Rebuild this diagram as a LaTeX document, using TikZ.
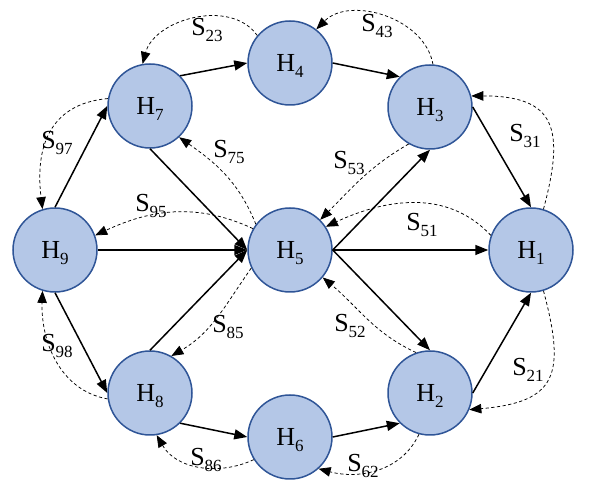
\documentclass[tikz,border=0pt]{standalone}
\usepackage{fontspec}
\setmainfont{Liberation Serif}
\usetikzlibrary{arrows.meta}
\definecolor{nodefill}{RGB}{180,199,231}
\definecolor{nodeline}{RGB}{47,85,151}
\newcommand{\lbl}[2]{#1\smash{\raisebox{-6pt}{\fontsize{17}{17}\selectfont #2}}}
\tikzset{
  hnode/.style={circle, draw=nodeline, fill=nodefill, line width=1.5pt, minimum size=84pt, inner sep=0pt, font=\fontsize{26}{26}\selectfont},
  flow/.style={line width=1.5pt, -{Triangle[length=13pt,width=10pt]}},
  share/.style={line width=0.75pt, dash pattern=on 3.2pt off 2.5pt, -{Triangle[length=12pt,width=9.5pt]}},
  slabel/.style={inner sep=0pt, font=\fontsize{26}{26}\selectfont}
}
\begin{document}
\begin{tikzpicture}[x=1pt,y=1pt]
\useasboundingbox (0,0) rectangle (598,486);
% nodes
\node[hnode] (H1) at (531,236) {\lbl{H}{1}};
\node[hnode] (H2) at (430,93) {\lbl{H}{2}};
\node[hnode] (H3) at (430,379) {\lbl{H}{3}};
\node[hnode] (H4) at (290,423) {\lbl{H}{4}};
\node[hnode] (H5) at (290,236) {\lbl{H}{5}};
\node[hnode] (H6) at (290,49) {\lbl{H}{6}};
\node[hnode] (H7) at (150,380) {\lbl{H}{7}};
\node[hnode] (H8) at (150,93) {\lbl{H}{8}};
\node[hnode] (H9) at (55,236) {\lbl{H}{9}};
% solid flows
\draw[flow] (H9.north) -- (H7.west);
\draw[flow] (H7.45) -- (H4.west);
\draw[flow] (H4.east) -- (H3.135);
\draw[flow] (H3.east) -- (H1.north);
\draw[flow] (H9.south) -- (H8.west);
\draw[flow] (H8.-45) -- (H6.west);
\draw[flow] (H6.east) -- (H2.225);
\draw[flow] (H2.east) -- (H1.south);
\draw[flow] (H9.east) -- (H5.west);
\draw[flow] (H7.south) -- (H5.west);
\draw[flow] (H8.north) -- (H5.west);
\draw[flow] (H5.east) -- (H3.south);
\draw[flow] (H5.east) -- (H1.west);
\draw[flow] (H5.east) -- (H2.north);
% dashed shares
\draw[share] (H4.140) to[out=125,in=75] (H7.100);
\draw[share] (H3.86) to[out=100,in=45] (H4.52);
\draw[share] (H1.73) to[out=75,in=0,looseness=1.6] (H3.15);
\draw[share] (H1.-73) to[out=-75,in=5,looseness=1.6] (H2.-23);
\draw[share] (H2.-105) to[out=-115,in=-15] (H6.-48);
\draw[share] (H6.-148) to[out=-155,in=-60] (H8.-81);
\draw[share] (H8.188) to[out=170,in=-92] (H9.-107);
\draw[share] (H7.170) to[out=185,in=97,looseness=1.2] (H9.107);
\draw[share] (H5.150) to[out=155,in=25] (H9.20);
\draw[share] (H5.143) to[out=112,in=-35] (H7.-47);
\draw[share] (H5.205) to[out=-125,in=30] (H8.60);
\draw[share] (H3.-120) to[out=-150,in=45] (H5.45);
\draw[share] (H1.160) to[out=133,in=25] (H5.33);
\draw[share] (H2.109) to[out=155,in=-40] (H5.-40);
% labels
\node[slabel] (L23) at (207,459) {\lbl{S}{23}};
\node[slabel] (L43) at (377,463) {\lbl{S}{43}};
\node[slabel] (L31) at (525,353) {\lbl{S}{31}};
\node[slabel] (L21) at (528,119) {\lbl{S}{21}};
\node[slabel] (L62) at (363,23) {\lbl{S}{62}};
\node[slabel] (L86) at (206,29) {\lbl{S}{86}};
\node[slabel] (L98) at (57,143) {\lbl{S}{98}};
\node[slabel] (L97) at (57,346) {\lbl{S}{97}};
\node[slabel] (L95) at (151,283) {\lbl{S}{95}};
\node[slabel] (L75) at (229,337) {\lbl{S}{75}};
\node[slabel] (L85) at (228,162) {\lbl{S}{85}};
\node[slabel] (L53) at (349,326) {\lbl{S}{53}};
\node[slabel] (L51) at (422,264) {\lbl{S}{51}};
\node[slabel] (L52) at (350,163) {\lbl{S}{52}};
\end{tikzpicture}
\end{document}
